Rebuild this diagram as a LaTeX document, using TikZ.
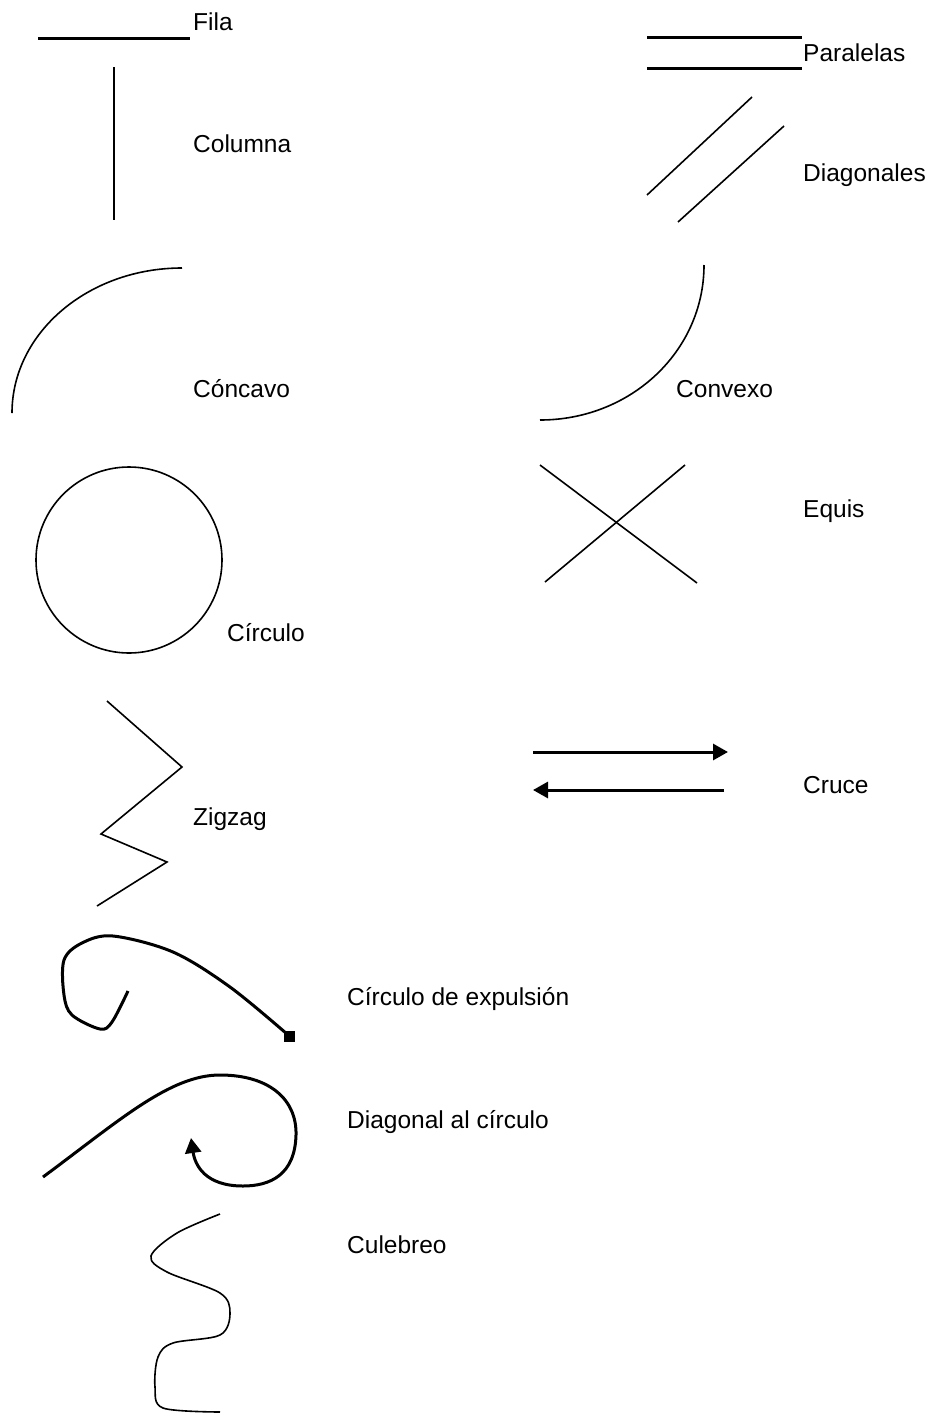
\documentclass[tikz,border=0pt]{standalone}
\usepackage{fontspec}
\setmainfont{Liberation Sans}
\usetikzlibrary{arrows.meta}
\begin{document}
\begin{tikzpicture}[x=1pt,y=-1pt,
  thinline/.style={line width=1.6pt},
  thickline/.style={line width=3pt},
  lbl/.style={anchor=west,inner sep=0pt,font=\fontsize{24.5}{29}\selectfont},
  tip/.style={-{Triangle[length=15pt,width=16pt]}}]
\useasboundingbox (0,0) rectangle (934,1414);
% labels
\node[lbl] (fila) at (193,22) {Fila};
\node[lbl] (columna) at (193,144) {Columna};
\node[lbl] (paralelas) at (803,53) {Paralelas};
\node[lbl] (diagonales) at (803,175) {Diagonales};
\node[lbl] (concavo) at (193,389) {Cóncavo};
\node[lbl] (convexo) at (676,389) {Convexo};
\node[lbl] (equis) at (803,511) {Equis};
\node[lbl] (circulo) at (227,633) {Círculo};
\node[lbl] (cruce) at (803,785) {Cruce};
\node[lbl] (zigzag) at (193,819) {Zigzag};
\node[lbl] (expulsion) at (347,999) {Círculo de expulsión};
\node[lbl] (diagcirc) at (347,1122) {Diagonal al círculo};
\node[lbl] (culebreo) at (347,1245) {Culebreo};
% Fila
\draw[thickline] (38,38) -- (190,38);
% Columna
\draw[thinline] (114,67) -- (114,220);
% Paralelas
\draw[thickline] (647,37) -- (802,37);
\draw[thickline] (647,68) -- (802,68);
% Diagonales
\draw[thinline] (647,195) -- (752,97);
\draw[thinline] (678,222) -- (784,126);
% Concavo
\draw[thinline] (12,413) .. controls (12,333) and (88,268) .. (182,268);
% Convexo
\draw[thinline] (704,265) .. controls (704,351) and (631,420) .. (540,420);
% Circulo
\draw[thinline] (129,560) circle[radius=93];
% Equis
\draw[thinline] (540,465) -- (697,583);
\draw[thinline] (545,582) -- (685,465);
% Zigzag
\draw[thinline] (107,701) -- (182,767) -- (101,834) -- (167,862) -- (97,906);
% Cruce
\draw[thickline,tip] (533,752) -- (728,752);
\draw[thickline,tip] (724,790) -- (533,790);
% Circulo de expulsion
\draw[thickline,line join=round] plot[smooth,tension=0.55] coordinates {(128,991) (112,1022) (100,1029) (72,1015) (64,995) (64,960) (82,943) (113,936) (173,952) (230,987) (287,1034)};
\fill (284,1031) rectangle (295,1042);
% Diagonal al circulo
\draw[thickline,tip] (43,1177) .. controls (120,1120) and (170,1075) .. (220,1075)
  .. controls (270,1075) and (297,1100) .. (296,1135)
  .. controls (295,1175) and (270,1186) .. (243,1186)
  .. controls (205,1186) and (195,1165) .. (191,1138);
% Culebreo
\draw[thinline] plot[smooth,tension=0.55] coordinates {(220,1214) (177,1233) (151,1256) (167,1272) (220,1293) (230,1313) (220,1335) (173,1343) (158,1357) (155,1387) (163,1408) (220,1412)};
\end{tikzpicture}
\end{document}
